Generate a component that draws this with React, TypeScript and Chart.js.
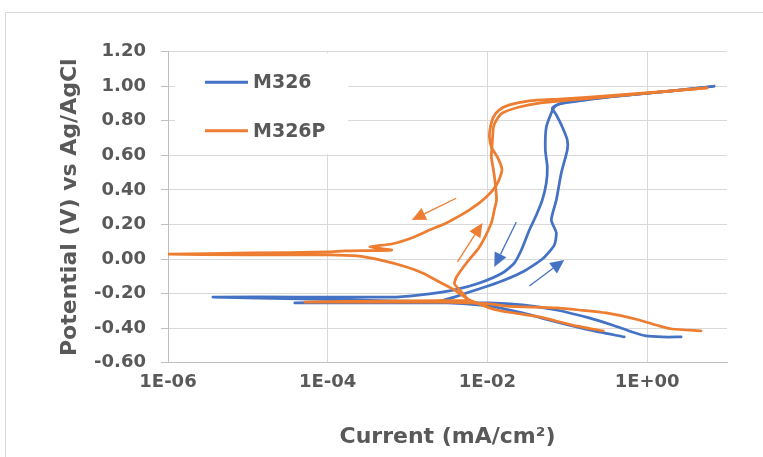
import React, { useEffect, useRef } from "react";
import { Chart, registerables } from "chart.js";

Chart.register(...registerables);

const FONT = '"DejaVu Sans", "Liberation Sans", sans-serif';
const TEXT = "#595959";
const BLUE = "#4472C4";
const ORANGE = "#ED7D31";

const seriesNames = ["M326", "M326P"];
const xTickValues = [1e-6, 1e-4, 1e-2, 1e0];

// M326 – forward scan (mA/cm², V vs Ag/AgCl)
const m326FwdI = [2.66, 1.54, 0.972, 0.649, 0.365, 0.188, 0.0729, 0.0274, 0.0106, 0.00251, 0.000447, 0.0000387, 0.000447, 0.00251, 0.00596, 0.0141, 0.0274, 0.0487, 0.0688, 0.0729, 0.0631, 0.0729, 0.0841, 0.1, 0.1, 0.0866, 0.0729, 0.0649, 0.0794, 0.115, 0.335, 2.05, 6.88];
const m326FwdE = [-0.451, -0.451, -0.445, -0.422, -0.382, -0.341, -0.295, -0.266, -0.254, -0.254, -0.254, -0.254, -0.249, -0.243, -0.191, -0.133, -0.075, 0.0, 0.081, 0.151, 0.226, 0.342, 0.498, 0.631, 0.689, 0.764, 0.834, 0.874, 0.897, 0.909, 0.938, 0.973, 1.0];

// M326 – reverse scan
const m326RevI = [6.88, 2.05, 0.335, 0.115, 0.0794, 0.0688, 0.0631, 0.0546, 0.0531, 0.0562, 0.0546, 0.0487, 0.041, 0.0335, 0.0266, 0.0217, 0.0154, 0.00794, 0.00387, 0.00188, 0.000729, 0.0000447, 0.00000365, 0.0000447, 0.000794, 0.00251, 0.0106, 0.0274, 0.0729, 0.188, 0.516];
const m326RevE = [1.0, 0.973, 0.938, 0.915, 0.897, 0.88, 0.845, 0.764, 0.631, 0.533, 0.44, 0.342, 0.255, 0.168, 0.052, -0.023, -0.081, -0.139, -0.179, -0.202, -0.22, -0.22, -0.22, -0.231, -0.243, -0.249, -0.272, -0.312, -0.364, -0.41, -0.451];

// M326P – forward scan
const m326pFwdI = [4.73, 2.05, 1.41, 0.794, 0.307, 0.141, 0.0729, 0.0173, 0.0106, 0.00596, 0.00251, 0.000447, 0.0000516, 0.000447, 0.00251, 0.00562, 0.00473, 0.00387, 0.0041, 0.00546, 0.00794, 0.0112, 0.0122, 0.013, 0.0126, 0.0119, 0.0112, 0.0115, 0.0119, 0.013, 0.0154, 0.0251, 0.0447, 0.106, 0.307, 2.05, 5.62];
const m326pFwdE = [-0.416, -0.405, -0.387, -0.353, -0.312, -0.295, -0.283, -0.272, -0.26, -0.254, -0.249, -0.249, -0.249, -0.243, -0.24, -0.237, -0.191, -0.144, -0.104, -0.023, 0.07, 0.209, 0.284, 0.342, 0.429, 0.515, 0.591, 0.672, 0.764, 0.805, 0.845, 0.88, 0.903, 0.92, 0.938, 0.973, 0.99];

// M326P – reverse scan
const m326pRevI = [5.62, 2.05, 0.307, 0.0794, 0.0335, 0.0188, 0.0141, 0.0119, 0.0109, 0.0106, 0.0112, 0.0133, 0.015, 0.015, 0.013, 0.0097, 0.00596, 0.00307, 0.00188, 0.00112, 0.000631, 0.000335, 0.000631, 0.000163, 0.0001, 0.0000106, 0.000001, 0.0000006, 0.0000106, 0.000106, 0.00023, 0.000447, 0.00097, 0.00154, 0.00251, 0.00387, 0.00596, 0.013, 0.0447, 0.115, 0.282];
const m326pRevE = [0.99, 0.973, 0.944, 0.926, 0.915, 0.892, 0.863, 0.822, 0.764, 0.706, 0.648, 0.591, 0.533, 0.498, 0.429, 0.359, 0.284, 0.209, 0.168, 0.122, 0.087, 0.07, 0.052, 0.047, 0.041, 0.035, 0.029, 0.029, 0.024, 0.024, 0.018, -0.005, -0.046, -0.081, -0.133, -0.179, -0.237, -0.295, -0.335, -0.382, -0.416];

// Scan-direction arrows: tail -> tip
const arrowTailI = [0.00406, 0.00422, 0.023, 0.0335];
const arrowTailE = [0.352, -0.017, 0.214, -0.156];
const arrowTipI = [0.00113, 0.00866, 0.0122, 0.0917];
const arrowTipE = [0.226, 0.209, -0.046, -0.005];
const arrowColors = [ORANGE, ORANGE, BLUE, BLUE];

const toPoints = (xs: number[], ys: number[]) => xs.map((x, i) => ({ x, y: ys[i] }));

const fmtExp = (v: number) => {
  const e = Math.round(Math.log10(v));
  const sign = e < 0 ? "-" : "+";
  const a = Math.abs(e);
  return "1E" + sign + (a < 10 ? "0" + a : String(a));
};

const decorPlugin = {
  id: "decor",
  beforeDraw(chart: any) {
    const ctx = chart.ctx;
    ctx.save();
    ctx.strokeStyle = "#d9d9d9";
    ctx.lineWidth = 1;
    ctx.strokeRect(5.5, 12.5, chart.width + 20, chart.height + 20);
    ctx.restore();
  },
  afterDatasetsDraw(chart: any) {
    const { ctx, chartArea, scales } = chart;
    const xs = scales.x;
    const ys = scales.y;
    ctx.save();

    // scan-direction arrows
    for (let i = 0; i < arrowTailI.length; i++) {
      const x0 = xs.getPixelForValue(arrowTailI[i]);
      const y0 = ys.getPixelForValue(arrowTailE[i]);
      const x1 = xs.getPixelForValue(arrowTipI[i]);
      const y1 = ys.getPixelForValue(arrowTipE[i]);
      const ang = Math.atan2(y1 - y0, x1 - x0);
      const headLen = 14;
      const headW = 6.5;
      const bx = x1 - headLen * Math.cos(ang);
      const by = y1 - headLen * Math.sin(ang);
      ctx.strokeStyle = arrowColors[i];
      ctx.fillStyle = arrowColors[i];
      ctx.lineWidth = 1.3;
      ctx.beginPath();
      ctx.moveTo(x0, y0);
      ctx.lineTo(bx, by);
      ctx.stroke();
      ctx.beginPath();
      ctx.moveTo(x1, y1);
      ctx.lineTo(bx + headW * Math.sin(ang), by - headW * Math.cos(ang));
      ctx.lineTo(bx - headW * Math.sin(ang), by + headW * Math.cos(ang));
      ctx.closePath();
      ctx.fill();
    }

    // legend inside the plot
    const left = chartArea.left;
    const top = chartArea.top;
    ctx.fillStyle = "#ffffff";
    ctx.fillRect(left + 7, top + 1.5, 173, 101);
    const rows = [
      { label: seriesNames[0], color: BLUE, y: top + 30.6 },
      { label: seriesNames[1], color: ORANGE, y: top + 79 },
    ];
    ctx.font = `bold 19px ${FONT}`;
    ctx.textBaseline = "middle";
    ctx.textAlign = "left";
    for (const r of rows) {
      ctx.strokeStyle = r.color;
      ctx.lineWidth = 3;
      ctx.lineCap = "butt";
      ctx.beginPath();
      ctx.moveTo(left + 37, r.y);
      ctx.lineTo(left + 80, r.y);
      ctx.stroke();
      ctx.fillStyle = TEXT;
      ctx.fillText(r.label, left + 85, r.y + 1);
    }
    ctx.restore();
  },
};

const lineStyle = (color: string, order: number) => ({
  showLine: true,
  borderColor: color,
  backgroundColor: color,
  borderWidth: 2.75,
  pointRadius: 0,
  pointHoverRadius: 0,
  tension: 0.2,
  fill: false,
  borderJoinStyle: "round" as const,
  borderCapStyle: "round" as const,
  clip: 0,
  order,
});

export default function App() {
  const canvasRef = useRef<HTMLCanvasElement | null>(null);

  useEffect(() => {
    const canvas = canvasRef.current;
    if (!canvas) return;
    const tickFont = { family: FONT, size: 18, weight: "bold" as const };
    const titleFont = { family: FONT, size: 22, weight: "bold" as const };

    const chart = new Chart(canvas, {
      type: "scatter",
      data: {
        datasets: [
          { label: seriesNames[0], data: toPoints(m326FwdI, m326FwdE), ...lineStyle(BLUE, 2) },
          { label: seriesNames[0], data: toPoints(m326RevI, m326RevE), ...lineStyle(BLUE, 2) },
          { label: seriesNames[1], data: toPoints(m326pFwdI, m326pFwdE), ...lineStyle(ORANGE, 1) },
          { label: seriesNames[1], data: toPoints(m326pRevI, m326pRevE), ...lineStyle(ORANGE, 1) },
        ],
      },
      options: {
        animation: false,
        responsive: false,
        devicePixelRatio: 1,
        layout: { padding: { left: 53, top: 51.7, right: 36, bottom: 3 } },
        plugins: {
          legend: { display: false },
          tooltip: { enabled: false },
        },
        events: [],
        scales: {
          x: {
            type: "logarithmic",
            min: 1e-6,
            max: 10,
            afterBuildTicks: (s: any) => {
              s.ticks = xTickValues.map((v) => ({ value: v }));
            },
            afterFit: (s: any) => {
              s.height = 91.3;
            },
            ticks: {
              color: TEXT,
              font: tickFont,
              padding: 9,
              autoSkip: false,
              maxRotation: 0,
              callback: (v: any) => fmtExp(Number(v)),
            },
            grid: { color: "#d9d9d9", lineWidth: 1, drawTicks: false },
            border: { color: "#bfbfbf", width: 1 },
            title: {
              display: true,
              text: "Current (mA/cm²)",
              color: TEXT,
              font: titleFont,
              padding: { top: 4, bottom: 4 },
            },
          },
          y: {
            type: "linear",
            min: -0.6,
            max: 1.2,
            afterFit: (s: any) => {
              s.width = 115;
            },
            ticks: {
              stepSize: 0.2,
              color: TEXT,
              font: tickFont,
              padding: 15,
              callback: (v: any) => {
                const n = Number(v);
                return (Math.abs(n) < 1e-9 ? 0 : n).toFixed(2);
              },
            },
            grid: { color: "#d9d9d9", tickColor: "#bfbfbf", tickLength: 7, lineWidth: 1 },
            border: { color: "#bfbfbf", width: 1 },
            title: {
              display: true,
              text: "Potential (V) vs Ag/AgCl",
              color: TEXT,
              font: titleFont,
              padding: { top: 4, bottom: 4 },
            },
          },
        },
      },
      plugins: [decorPlugin],
    } as any);

    return () => chart.destroy();
  }, []);

  return (
    <div style={{ position: "fixed", left: 0, top: 0, width: 763, height: 457, background: "#ffffff" }}>
      <canvas ref={canvasRef} width={763} height={457} style={{ display: "block" }} />
    </div>
  );
}
